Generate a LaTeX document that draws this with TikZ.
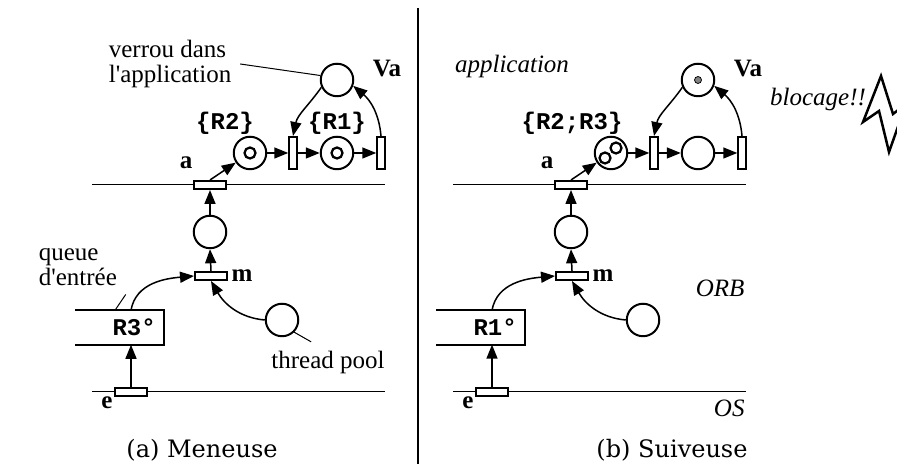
\documentclass[tikz,border=0pt]{standalone}
\usepackage{fontspec}
\setmainfont{Liberation Serif}
\setmonofont{Liberation Mono}
\newfontfamily\capfont{DejaVu Serif}
\usetikzlibrary{arrows.meta, positioning, calc}
\definecolor{tokgray}{RGB}{130,130,130}
\tikzset{
  place/.style={circle, draw, line width=0.8pt, minimum size=13pt, inner sep=0pt},
  htrans/.style={rectangle, draw, fill=white, line width=0.8pt,
    minimum width=12.8pt, minimum height=3.2pt, inner sep=0pt},
  vtrans/.style={rectangle, draw, fill=white, line width=0.8pt,
    minimum width=3pt, minimum height=12.8pt, inner sep=0pt},
  queue/.style={rectangle, minimum height=13.2pt, text width=29pt, inner xsep=3pt,
    align=right, font=\ttfamily\bfseries\fontsize{9.6}{10}\selectfont},
  token/.style={circle, draw, fill=white, line width=0.9pt, minimum size=4.4pt, inner sep=0pt,
    path picture={\fill ([yshift=-0.3pt]path picture bounding box.center) circle (1.2pt);}},
  graytoken/.style={circle, fill=tokgray, draw=black, line width=0.3pt, minimum size=2.8pt, inner sep=0pt},
  setlabel/.style={font=\ttfamily\bfseries\fontsize{9.6}{10}\selectfont},
  tname/.style={font=\bfseries},
  layer/.style={font=\itshape, inner sep=0pt},
  caption/.style={font=\capfont\fontsize{9.6}{11}\selectfont},
  arc/.style={-{Triangle[length=5.6pt,width=4.4pt]}, line width=0.6pt},
  lead/.style={line width=0.4pt},
  level/.style={line width=0.4pt}
}

\begin{document}
\begin{tikzpicture}[x=0.4pt, y=0.4pt]
  \useasboundingbox (0,0) rectangle (897,464);

  % separation between the two sub-figures
  \draw[line width=0.8pt] (418,456) -- (418,0);

  % ---------------- (a) Meneuse ----------------
  \draw[level] (92,279) -- (385,279);
  \draw[level] (92,72) -- (385,72);

  \node[htrans] (ta) at (210,279) {};
  \node[place] (pa) at (210,232) {};
  \node[htrans] (tm) at (211,188) {};
  \node[htrans] (te) at (131,72) {};
  \node[queue] (qa) at (119.5,136.5) {R3°};
  \node[place] (tpa) at (282,144) {};
  \node[place] (pr2) at (250,311) {};
  \node[vtrans] (t1) at (293,311) {};
  \node[place] (pr1) at (337,311) {};
  \node[vtrans] (t2) at (381,311) {};
  \node[place] (va) at (337,384) {};
  \node[token] (tok2) at (250,311) {};
  \node[token] (tok1) at (337,311) {};

  \draw[line width=0.8pt] (qa.north west) -- (qa.north east) -- (qa.south east) -- (qa.south west);

  \node[tname] (la) at (186,301) {a};
  \node[tname] (lm) at (242,188) {m};
  \node[tname] (le) at (107,61) {e};
  \node[tname] (lva) at (387,395) {Va};
  \node[setlabel] (lr2) at (225,341) {\{R2\}};
  \node[setlabel] (lr1) at (337,341) {\{R1\}};
  \node[align=left, anchor=west, font=\fontsize{10}{10}\selectfont] (lverrou) at (100,400) {verrou dans\\l\textquotesingle application};
  \node[align=left, anchor=west, font=\fontsize{10}{10}\selectfont] (lqueue) at (30,197) {queue\\d\textquotesingle entrée};
  \node (lpool) at (328,102) {thread pool};
  \node[caption] (capa) at (202,14) {(a) Meneuse};

  \draw[arc] (te.north) -- (te.north |- qa.south);
  \draw[arc] (te.north |- qa.north) to[out=80, in=185] (tm.west);
  \draw[arc] (tpa.west) to[out=175, in=-60] (tm.south);
  \draw[arc] (tm.north) -- (pa.south);
  \draw[arc] (pa.north) -- (ta.south);
  \draw[arc] (ta.north) -- (pr2);
  \draw[arc] (pr2) -- (t1);
  \draw[arc] (t1) -- (pr1);
  \draw[arc] (pr1) -- (t2);
  \draw[arc] (va.205) to[out=-125, in=78] (t1.north);
  \draw[arc] (t2.north) to[out=95, in=-40] (va.-20);

  \draw[lead] (lverrou.east) -- (va.165);
  \draw[lead] (lqueue.south east) -- ($(qa.north west)!0.45!(qa.north east)$);
  \draw[lead] (tpa.-45) -- (lpool.130);

  % ---------------- (b) Suiveuse ----------------
  \draw[level] (453,279) -- (746,279);
  \draw[level] (453,72) -- (746,72);

  \node[htrans] (tb) at (571,279) {};
  \node[place] (pb) at (571,232) {};
  \node[htrans] (tmb) at (572,188) {};
  \node[htrans] (teb) at (492,72) {};
  \node[queue] (qb) at (480.5,136.5) {R1°};
  \node[place] (tpb) at (643,144) {};
  \node[place] (pr23) at (611,311) {};
  \node[vtrans] (t1b) at (654,311) {};
  \node[place] (pr1b) at (698,311) {};
  \node[vtrans] (t2b) at (742,311) {};
  \node[place] (vb) at (698,384) {};
  \node[token] (tok3) at (605,306) {};
  \node[token] (tok4) at (616,316) {};
  \node[graytoken] (tokv) at (698,384) {};

  \draw[line width=0.8pt] (qb.north west) -- (qb.north east) -- (qb.south east) -- (qb.south west);

  \node[tname] (lb) at (547,301) {a};
  \node[tname] (lmb) at (603,188) {m};
  \node[tname] (leb) at (468,61) {e};
  \node[tname] (lvb) at (748,395) {Va};
  \node[setlabel] (lr23) at (572,341) {\{R2;R3\}};
  \node[font=\itshape] (lapp) at (512,397) {application};
  \node[layer, anchor=east] (lorb) at (745,176) {ORB};
  \node[layer, anchor=east] (los) at (745,56) {OS};
  \node[font=\itshape] (lblock) at (818,364) {blocage!!};
  \node[caption] (capb) at (672,14) {(b) Suiveuse};

  \draw[arc] (teb.north) -- (teb.north |- qb.south);
  \draw[arc] (teb.north |- qb.north) to[out=80, in=185] (tmb.west);
  \draw[arc] (tpb.west) to[out=175, in=-60] (tmb.south);
  \draw[arc] (tmb.north) -- (pb.south);
  \draw[arc] (pb.north) -- (tb.south);
  \draw[arc] (tb.north) -- (pr23);
  \draw[arc] (pr23) -- (t1b);
  \draw[arc] (t1b) -- (pr1b);
  \draw[arc] (pr1b) -- (t2b);
  \draw[arc] (vb.205) to[out=-125, in=78] (t1b.north);
  \draw[arc] (t2b.north) to[out=95, in=-40] (vb.-20);

  % lightning
  \begin{scope}
    \clip (0,0) rectangle (897,464);
    \draw[line width=1pt, line join=miter] (881,388) -- (863,342) -- (879,353)
      -- (889,312) -- (906,360) -- (893,350) -- cycle;
  \end{scope}
\end{tikzpicture}
\end{document}
